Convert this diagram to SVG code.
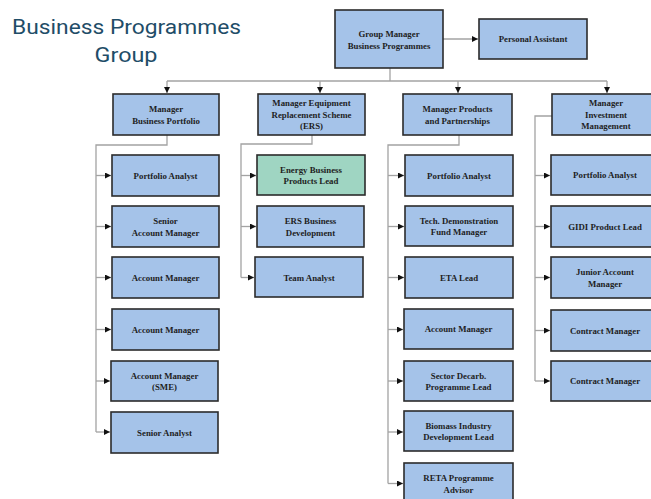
<svg xmlns="http://www.w3.org/2000/svg" width="651" height="499" viewBox="0 0 651 499">
<style>
.box{fill:#a5c3e9;stroke:#2b2b2b;stroke-width:1.6}
.green{fill:#9fd5c2}
.t{font-family:"Liberation Serif","DejaVu Serif",serif;font-weight:bold;font-size:8.8px;fill:#1e1e1e;text-anchor:middle}
.title{font-family:Roboto,"Open Sans","Liberation Sans",sans-serif;font-size:19.5px;font-weight:normal;fill:#1f4d68}
.c{fill:none;stroke:#a3a3a3;stroke-width:1.3}
</style>
<defs>
<marker id="ah" markerUnits="userSpaceOnUse" markerWidth="7" markerHeight="7" refX="6" refY="3" orient="auto">
<path d="M0,0 L6,3 L0,6 z" fill="#111"/>
</marker>
</defs>
<rect width="651" height="499" fill="#ffffff"/>
<g id="title">
<text class="title" x="12" y="34" textLength="229" lengthAdjust="spacingAndGlyphs">Business Programmes</text>
<text class="title" x="126" y="62" text-anchor="middle" textLength="63" lengthAdjust="spacingAndGlyphs">Group</text>
</g>
<g id="connectors">
<path class="c" d="M443,39 H478" marker-end="url(#ah)"/>
<path class="c" d="M390,68 V81"/>
<path class="c" d="M167,81 H607"/>
<path class="c" d="M167,81 V93" marker-end="url(#ah)"/>
<path class="c" d="M320,81 V93" marker-end="url(#ah)"/>
<path class="c" d="M458,81 V93" marker-end="url(#ah)"/>
<path class="c" d="M607,81 V93" marker-end="url(#ah)"/>
<path class="c" d="M167,135 V145 H96 V432"/>
<path class="c" d="M96,175.5 H111" marker-end="url(#ah)"/>
<path class="c" d="M96,226.5 H111" marker-end="url(#ah)"/>
<path class="c" d="M96,277.5 H111" marker-end="url(#ah)"/>
<path class="c" d="M96,329.5 H111" marker-end="url(#ah)"/>
<path class="c" d="M96,381 H110" marker-end="url(#ah)"/>
<path class="c" d="M96,432 H110" marker-end="url(#ah)"/>
<path class="c" d="M312,135 V144 H241 V277.5"/>
<path class="c" d="M241,175.5 H256" marker-end="url(#ah)"/>
<path class="c" d="M241,226.5 H256" marker-end="url(#ah)"/>
<path class="c" d="M241,277.5 H254" marker-end="url(#ah)"/>
<path class="c" d="M459,135 V145 H388 V483.5"/>
<path class="c" d="M388,175.5 H404" marker-end="url(#ah)"/>
<path class="c" d="M388,226.5 H404" marker-end="url(#ah)"/>
<path class="c" d="M388,277.5 H404" marker-end="url(#ah)"/>
<path class="c" d="M388,329.5 H403" marker-end="url(#ah)"/>
<path class="c" d="M388,381 H403" marker-end="url(#ah)"/>
<path class="c" d="M388,432 H403" marker-end="url(#ah)"/>
<path class="c" d="M388,483.5 H403" marker-end="url(#ah)"/>
<path class="c" d="M552,116 H535 V381"/>
<path class="c" d="M535,175.5 H550" marker-end="url(#ah)"/>
<path class="c" d="M535,226.5 H550" marker-end="url(#ah)"/>
<path class="c" d="M535,277.5 H550" marker-end="url(#ah)"/>
<path class="c" d="M535,330.5 H550" marker-end="url(#ah)"/>
<path class="c" d="M535,381 H550" marker-end="url(#ah)"/>
</g>
<g id="gm"><rect class="box" x="335" y="10" width="108" height="58"/><text class="t" x="389" y="37">Group Manager</text><text class="t" x="389" y="48.5">Business Programmes</text></g>
<g id="pa"><rect class="box" x="479" y="19" width="108" height="40"/><text class="t" x="533" y="42">Personal Assistant</text></g>
<g id="mbp"><rect class="box" x="113" y="94" width="106" height="41"/><text class="t" x="166" y="112">Manager</text><text class="t" x="166" y="123.5">Business Portfolio</text></g>
<g id="mers"><rect class="box" x="258" y="94" width="107" height="41"/><text class="t" x="311.5" y="106">Manager Equipment</text><text class="t" x="311.5" y="117.5">Replacement Scheme</text><text class="t" x="311.5" y="129">(ERS)</text></g>
<g id="mpp"><rect class="box" x="403" y="94" width="109" height="41"/><text class="t" x="457.5" y="112">Manager Products</text><text class="t" x="457.5" y="123.5">and Partnerships</text></g>
<g id="mim"><rect class="box" x="552" y="94" width="108" height="41"/><text class="t" x="606" y="106">Manager</text><text class="t" x="606" y="117.5">Investment</text><text class="t" x="606" y="129">Management</text></g>
<g id="l1"><rect class="box" x="112" y="155" width="107" height="41"/><text class="t" x="165.5" y="178.5">Portfolio Analyst</text></g>
<g id="l2"><rect class="box" x="112" y="206" width="107" height="41"/><text class="t" x="165.5" y="224">Senior</text><text class="t" x="165.5" y="235.5">Account Manager</text></g>
<g id="l3"><rect class="box" x="112" y="257" width="107" height="41"/><text class="t" x="165.5" y="280.5">Account Manager</text></g>
<g id="l4"><rect class="box" x="112" y="309" width="107" height="41"/><text class="t" x="165.5" y="332.5">Account Manager</text></g>
<g id="l5"><rect class="box" x="111" y="361" width="107" height="40"/><text class="t" x="164.5" y="378.5">Account Manager</text><text class="t" x="164.5" y="390">(SME)</text></g>
<g id="l6"><rect class="box" x="111" y="412" width="107" height="41"/><text class="t" x="164.5" y="435.5">Senior Analyst</text></g>
<g id="e1"><rect class="box green" x="257" y="155" width="108" height="40"/><text class="t" x="311" y="172.5">Energy Business</text><text class="t" x="311" y="184">Products Lead</text></g>
<g id="e2"><rect class="box" x="257" y="206" width="107" height="41"/><text class="t" x="310.5" y="224">ERS Business</text><text class="t" x="310.5" y="235.5">Development</text></g>
<g id="e3"><rect class="box" x="255" y="257" width="108" height="40"/><text class="t" x="309" y="280.5">Team Analyst</text></g>
<g id="p1"><rect class="box" x="405" y="155" width="108" height="41"/><text class="t" x="459" y="178.5">Portfolio Analyst</text></g>
<g id="p2"><rect class="box" x="405" y="206" width="108" height="40"/><text class="t" x="459" y="223.5">Tech. Demonstration</text><text class="t" x="459" y="235">Fund Manager</text></g>
<g id="p3"><rect class="box" x="405" y="257" width="108" height="41"/><text class="t" x="459" y="280.5">ETA Lead</text></g>
<g id="p4"><rect class="box" x="404" y="309" width="109" height="40"/><text class="t" x="458.5" y="332">Account Manager</text></g>
<g id="p5"><rect class="box" x="404" y="361" width="109" height="40"/><text class="t" x="458.5" y="378.5">Sector Decarb.</text><text class="t" x="458.5" y="390">Programme Lead</text></g>
<g id="p6"><rect class="box" x="404" y="411" width="109" height="40"/><text class="t" x="458.5" y="428.5">Biomass Industry</text><text class="t" x="458.5" y="440">Development Lead</text></g>
<g id="p7"><rect class="box" x="404" y="463" width="109" height="41"/><text class="t" x="458.5" y="481">RETA Programme</text><text class="t" x="458.5" y="492.5">Advisor</text></g>
<g id="i1"><rect class="box" x="551" y="155" width="108" height="40"/><text class="t" x="605" y="178">Portfolio Analyst</text></g>
<g id="i2"><rect class="box" x="551" y="206" width="108" height="41"/><text class="t" x="605" y="229.5">GIDI Product Lead</text></g>
<g id="i3"><rect class="box" x="551" y="257" width="108" height="41"/><text class="t" x="605" y="275">Junior Account</text><text class="t" x="605" y="286.5">Manager</text></g>
<g id="i4"><rect class="box" x="551" y="310" width="108" height="41"/><text class="t" x="605" y="333.5">Contract Manager</text></g>
<g id="i5"><rect class="box" x="551" y="361" width="108" height="40"/><text class="t" x="605" y="384">Contract Manager</text></g>
</svg>
